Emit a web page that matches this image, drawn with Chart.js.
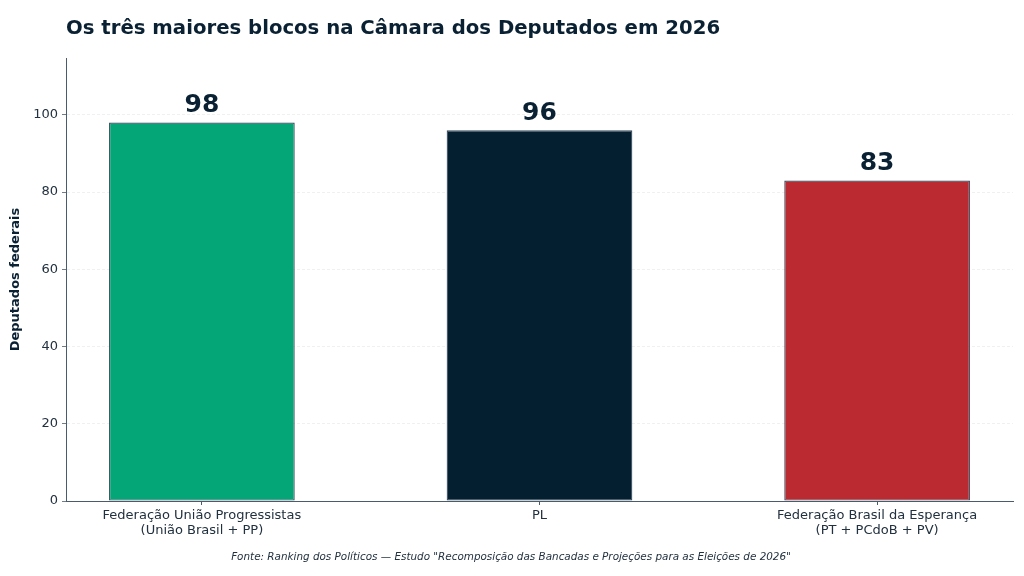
<!DOCTYPE html>
<html>
<head>
<meta charset="utf-8">
<script src="https://cdn.jsdelivr.net/npm/chart.js@4.4.1/dist/chart.umd.min.js"></script>
<style>
html,body{margin:0;padding:0;background:#fff;}
#wrap{width:1024px;height:576px;position:relative;}
</style>
</head>
<body>
<div id="wrap"><canvas id="c" width="1024" height="576"></canvas></div>
<script>
const categories = [
  ["Federação União Progressistas", "(União Brasil + PP)"],
  ["PL"],
  ["Federação Brasil da Esperança", "(PT + PCdoB + PV)"]
];
const seats = [98, 96, 83];
const barColors = ["#04A677", "#031F30", "#BB2A31"];
const yTicks = [0, 20, 40, 60, 80, 100];
const titleText = "Os três maiores blocos na Câmara dos Deputados em 2026";
const yTitle = "Deputados federais";
const sourceText = 'Fonte: Ranking dos Políticos — Estudo "Recomposição das Bancadas e Projeções para as Eleições de 2026"';

const FONT = "'DejaVu Sans', sans-serif";
const NAVY = "#0a2133";
const TEXT = "#22313f";
const SPINE = "#4a5b6b";

const extras = {
  id: "extras",
  afterDatasetsDraw(chart) {
    const ctx = chart.ctx;
    const meta = chart.getDatasetMeta(0);
    ctx.save();
    ctx.fillStyle = NAVY;
    ctx.font = "bold 25px " + FONT;
    ctx.textAlign = "center";
    ctx.textBaseline = "alphabetic";
    meta.data.forEach((bar, i) => {
      ctx.fillText(String(seats[i]), bar.x, bar.y - 10);
    });
    ctx.restore();
  },
  afterDraw(chart) {
    const ctx = chart.ctx;
    ctx.save();
    ctx.fillStyle = NAVY;
    ctx.font = "bold 19.7px " + FONT;
    ctx.textAlign = "left";
    ctx.textBaseline = "middle";
    ctx.fillText(titleText, 66, 29);
    ctx.fillStyle = TEXT;
    ctx.font = "italic 10.4px " + FONT;
    ctx.textAlign = "center";
    ctx.fillText(sourceText, 511, 557);
    ctx.restore();
  }
};

new Chart(document.getElementById("c"), {
  type: "bar",
  data: {
    datasets: [{
      data: seats.map((v, i) => ({ x: i, y: v })),
      backgroundColor: barColors,
      borderColor: "#34495e",
      borderWidth: 1.2,
      borderSkipped: false,
      barPercentage: 0.55,
      categoryPercentage: 1.0
    }]
  },
  options: {
    responsive: false,
    animation: false,
    devicePixelRatio: 1,
    layout: { padding: { left: 0, right: 11, top: 58, bottom: 0 } },
    plugins: { legend: { display: false }, tooltip: { enabled: false }, title: { display: false } },
    scales: {
      x: {
        type: "linear",
        offset: false,
        min: -0.4025,
        max: 2.4025,
        afterBuildTicks: (s) => { s.ticks = categories.map((_, i) => ({ value: i })); },
        afterFit: (s) => { s.height = 75; },
        grid: { display: true, offset: false, drawOnChartArea: false, drawTicks: true, tickLength: 4, tickColor: SPINE, tickWidth: 1 },
        border: { display: true, color: SPINE, width: 1 },
        ticks: {
          autoSkip: false, maxRotation: 0, minRotation: 0, padding: 3,
          color: TEXT, font: { family: FONT, size: 13, lineHeight: 1.15 },
          callback: (v) => categories[v]
        }
      },
      y: {
        min: 0,
        max: 114.7,
        afterBuildTicks: (s) => { s.ticks = yTicks.map(v => ({ value: v })); },
        afterFit: (s) => { s.width = 66; },
        grid: { display: true, drawOnChartArea: true, drawTicks: true, tickLength: 4, color: "#ececec", tickColor: SPINE, lineWidth: 0.8 },
        border: { display: true, color: SPINE, width: 1, dash: [3, 2] },
        ticks: { padding: 4, color: TEXT, font: { family: FONT, size: 13 } },
        title: { display: true, text: yTitle, color: NAVY, font: { family: FONT, size: 13, weight: "bold" }, padding: { top: 8, bottom: 0 } }
      }
    }
  },
  plugins: [extras]
});
</script>
</body>
</html>
